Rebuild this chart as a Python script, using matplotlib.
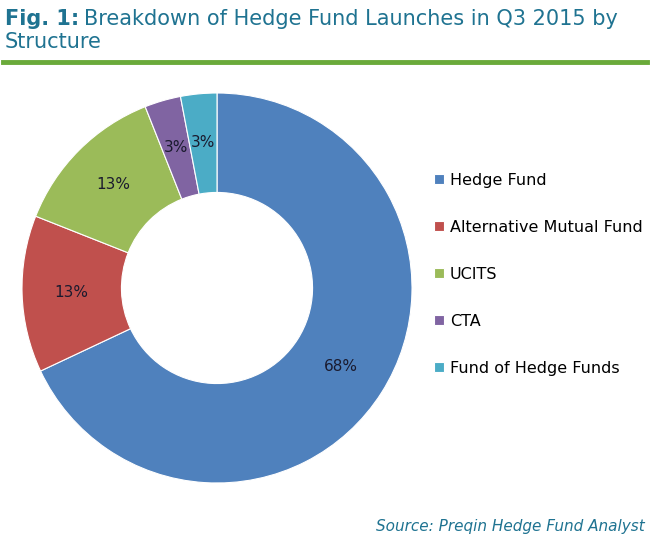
import matplotlib
matplotlib.use('Agg')
import matplotlib.pyplot as plt

# data
labels = ['Hedge Fund', 'Alternative Mutual Fund', 'UCITS', 'CTA', 'Fund of Hedge Funds']
shares = [68, 13, 13, 3, 3]
colors = ['#4F81BD', '#C0504D', '#9BBB59', '#8064A2', '#4BACC6']

W, H = 650, 543
teal = '#1F7391'
fig = plt.figure(figsize=(W/100, H/100), dpi=100)
plt.rcParams['font.family'] = ['DejaVu Sans']

# title, bold "Fig. 1:" then regular rest
tfs = 15
t1 = fig.text(5/W, 1-19/H, 'Fig. 1:', fontsize=tfs, fontweight='bold', color=teal, va='center')
fig.canvas.draw()
bb = t1.get_window_extent()
fig.text((bb.x1+5)/W, 1-19/H, 'Breakdown of Hedge Fund Launches in Q3 2015 by', fontsize=tfs, color=teal, va='center')
fig.text(5/W, 1-42/H, 'Structure', fontsize=tfs, color=teal, va='center')
fig.add_artist(plt.Line2D([3/W, 647/W], [1-62/H, 1-62/H], color='#6AAA3A', lw=3.5))

# donut
cx, cy, r = 217, 288, 195
ax = fig.add_axes([(cx-r)/W, (H-cy-r)/H, 2*r/W, 2*r/H])
wedges, _, autotexts = ax.pie(shares, colors=colors, startangle=90, counterclock=False,
                              radius=1, autopct='%d%%', pctdistance=0.75,
                              wedgeprops=dict(width=0.51, edgecolor='white', linewidth=0.8),
                              textprops=dict(fontsize=11, color='#1a1a2e'))
ax.set_xlim(-1, 1); ax.set_ylim(-1, 1)
ax.set_aspect('equal')
ax.axis('off')

fig.legend(wedges, labels, loc='upper left', bbox_to_anchor=(434/W, 1-173/H), frameon=False,
           fontsize=11.5, handlelength=0.6, handleheight=0.6, handletextpad=0.4,
           labelspacing=2.0, borderpad=0, borderaxespad=0)

fig.text(645/W, 1-527/H, 'Source: Preqin Hedge Fund Analyst', fontsize=11, style='italic',
         color=teal, ha='right', va='center')

fig.savefig('out.png', dpi=100)
